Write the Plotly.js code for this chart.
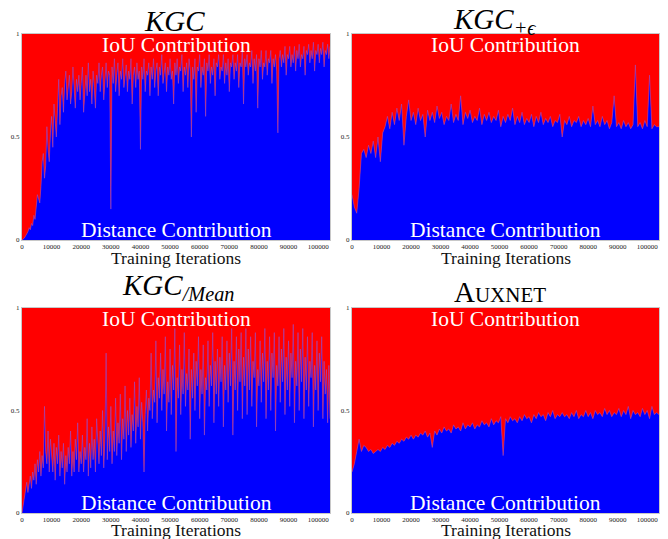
<!DOCTYPE html>
<html><head><meta charset="utf-8">
<script src="https://cdn.plot.ly/plotly-3.0.1.min.js"></script>
<style>html,body{margin:0;padding:0;background:#fff}#c{width:668px;height:539px}</style>
</head><body><div id="c"></div>
<script>
// Iteration sampling steps (training iterations between samples), per panel
const panelSteps = [400, 800, 400, 800];

// Distance-contribution share (blue); IoU share is the remainder
const kgcDistance = [
0,0.005,0.01,0.02,0.03,0.04,0.06,0.05,0.08,0.07,
0.12,0.1,0.16,0.22,0.2,0.18,0.26,0.38,0.42,0.3,
0.36,0.55,0.44,0.38,0.52,0.6,0.45,0.66,0.58,0.5,
0.64,0.78,0.56,0.7,0.74,0.62,0.76,0.82,0.68,0.74,
0.8,0.66,0.72,0.84,0.7,0.64,0.78,0.72,0.8,0.68,
0.76,0.84,0.62,0.74,0.8,0.7,0.86,0.72,0.78,0.66,
0.82,0.74,0.64,0.8,0.76,0.86,0.72,0.8,0.84,0.68,
0.78,0.86,0.74,0.82,0.8,0.15,0.84,0.76,0.88,0.72,
0.8,0.86,0.7,0.82,0.78,0.88,0.74,0.8,0.85,0.72,
0.82,0.78,0.88,0.66,0.8,0.84,0.74,0.86,0.78,0.82,
0.44,0.84,0.78,0.88,0.72,0.82,0.8,0.86,0.7,0.84,
0.78,0.88,0.74,0.82,0.86,0.7,0.84,0.8,0.9,0.76,
0.82,0.86,0.72,0.84,0.8,0.88,0.78,0.82,0.66,0.86,
0.8,0.88,0.76,0.84,0.82,0.9,0.72,0.84,0.8,0.86,
0.74,0.88,0.82,0.5,0.84,0.78,0.88,0.62,0.84,0.82,
0.9,0.74,0.84,0.8,0.88,0.6,0.86,0.82,0.9,0.76,
0.84,0.8,0.88,0.7,0.86,0.84,0.9,0.78,0.84,0.82,
0.9,0.76,0.86,0.8,0.88,0.72,0.86,0.84,0.9,0.78,
0.86,0.82,0.9,0.74,0.86,0.84,0.92,0.66,0.88,0.84,
0.9,0.8,0.86,0.84,0.92,0.76,0.88,0.82,0.9,0.64,
0.88,0.84,0.92,0.78,0.86,0.84,0.92,0.8,0.88,0.86,
0.92,0.76,0.88,0.84,0.9,0.82,0.52,0.88,0.92,0.84,
0.9,0.86,0.94,0.8,0.9,0.88,0.94,0.84,0.9,0.86,
0.94,0.82,0.92,0.88,0.95,0.84,0.9,0.88,0.94,0.8,
0.92,0.9,0.95,0.86,0.92,0.88,0.96,0.82,0.92,0.9,
0.95,0.86,0.93,0.9,0.96,0.84,0.92,0.9,0.95,0.88,
0.94];

const kgcEpsDistance = [
0.22,0.16,0.13,0.25,0.42,0.44,0.4,0.46,0.42,0.48,
0.4,0.5,0.38,0.52,0.55,0.6,0.54,0.62,0.56,0.64,
0.58,0.66,0.46,0.6,0.68,0.58,0.62,0.56,0.64,0.58,
0.61,0.5,0.63,0.58,0.62,0.57,0.65,0.59,0.62,0.56,
0.6,0.58,0.66,0.57,0.61,0.58,0.7,0.56,0.62,0.59,
0.63,0.57,0.6,0.58,0.64,0.56,0.61,0.58,0.62,0.57,
0.6,0.58,0.63,0.55,0.6,0.57,0.61,0.58,0.64,0.56,
0.6,0.57,0.62,0.56,0.59,0.57,0.61,0.55,0.6,0.57,
0.62,0.56,0.59,0.57,0.6,0.55,0.58,0.57,0.61,0.5,
0.58,0.56,0.6,0.55,0.58,0.57,0.6,0.55,0.58,0.56,
0.59,0.55,0.65,0.56,0.58,0.55,0.6,0.56,0.58,0.54,
0.57,0.7,0.55,0.57,0.54,0.58,0.55,0.57,0.54,0.56,
0.85,0.55,0.57,0.54,0.58,0.55,0.8,0.54,0.56,0.55,0.55];

const kgcMeanDistance = [
0,0.04,0.08,0.12,0.15,0.1,0.14,0.18,0.12,0.2,
0.16,0.24,0.14,0.26,0.2,0.3,0.18,0.28,0.22,0.52,
0.3,0.24,0.4,0.2,0.36,0.28,0.2,0.34,0.16,0.32,
0.24,0.38,0.18,0.3,0.22,0.34,0.14,0.28,0.2,0.32,
0.24,0.4,0.18,0.3,0.2,0.36,0.26,0.44,0.2,0.3,
0.24,0.38,0.2,0.32,0.26,0.46,0.18,0.34,0.22,0.42,
0.26,0.36,0.2,0.46,0.3,0.24,0.4,0.28,0.5,0.22,
0.36,0.78,0.26,0.42,0.3,0.52,0.24,0.4,0.3,0.56,
0.28,0.44,0.34,0.58,0.26,0.46,0.36,0.62,0.3,0.5,
0.38,0.56,0.32,0.48,0.4,0.64,0.34,0.52,0.42,0.66,
0.36,0.54,0.44,0.2,0.48,0.6,0.4,0.56,0.5,0.78,
0.46,0.6,0.54,0.84,0.44,0.66,0.56,0.78,0.5,0.7,
0.58,0.86,0.4,0.64,0.54,0.8,0.48,0.72,0.6,0.9,
0.3,0.66,0.56,0.82,0.48,0.7,0.58,0.88,0.52,0.68,
0.6,0.8,0.36,0.7,0.56,0.78,0.5,0.74,0.62,0.86,
0.46,0.7,0.58,0.82,0.38,0.66,0.6,0.84,0.52,0.72,
0.62,0.88,0.44,0.74,0.58,0.8,0.52,0.76,0.64,0.86,
0.42,0.72,0.6,0.84,0.54,0.78,0.62,0.9,0.38,0.74,
0.6,0.86,0.5,0.8,0.64,0.88,0.46,0.76,0.62,0.9,
0.48,0.8,0.6,0.86,0.52,0.74,0.66,0.88,0.42,0.7,
0.62,0.84,0.54,0.78,0.64,0.9,0.46,0.74,0.6,0.86,
0.5,0.78,0.66,0.88,0.4,0.72,0.62,0.86,0.54,0.8,
0.64,0.9,0.48,0.76,0.6,0.84,0.52,0.78,0.66,0.92,
0.44,0.74,0.62,0.88,0.5,0.8,0.64,0.9,0.46,0.76,
0.6,0.86,0.52,0.74,0.66,0.88,0.42,0.72,0.6,0.84,
0.5,0.78,0.64,0.86,0.46,0.74,0.58,0.7,0.44,0.72,
0.46];

const auxnetDistance = [
0.2,0.24,0.3,0.36,0.3,0.33,0.32,0.3,0.31,0.29,
0.3,0.31,0.3,0.32,0.31,0.33,0.32,0.34,0.33,0.35,
0.34,0.36,0.35,0.37,0.36,0.38,0.36,0.38,0.37,0.39,
0.38,0.4,0.37,0.39,0.32,0.4,0.38,0.41,0.39,0.42,
0.4,0.41,0.39,0.43,0.41,0.42,0.4,0.44,0.41,0.43,
0.42,0.44,0.41,0.43,0.42,0.45,0.43,0.44,0.42,0.46,
0.43,0.45,0.44,0.47,0.28,0.46,0.44,0.47,0.45,0.46,
0.44,0.47,0.45,0.48,0.46,0.47,0.44,0.48,0.46,0.49,
0.47,0.48,0.45,0.49,0.47,0.5,0.46,0.48,0.47,0.49,
0.47,0.48,0.46,0.49,0.47,0.5,0.46,0.48,0.47,0.5,
0.47,0.49,0.46,0.5,0.48,0.49,0.47,0.51,0.48,0.5,
0.47,0.49,0.48,0.51,0.47,0.5,0.48,0.52,0.46,0.5,
0.48,0.49,0.47,0.51,0.48,0.5,0.46,0.52,0.48,0.49,0.48];

const panelTitles = [
  "<i>KGC</i>",
  "<i>KGC<sub>+ϵ</sub></i>",
  "<i>KGC<sub>/Mean</sub></i>",
  "A<span style=\"font-size:21px\">UXNET</span>"
];
const topLabel = "IoU Contribution";
const bottomLabel = "Distance Contribution";
const xAxisLabel = "Training Iterations";
const yTickVals = [0, 0.5, 1];
const yTickText = ["0", "0.5", "1"];

const series = [kgcDistance, kgcEpsDistance, kgcMeanDistance, auxnetDistance];

const BLUE = "#0000ff", RED = "#ff0000";
const SERIF = "Liberation Serif, DejaVu Serif, serif";
const H = 539;

const xDomains = [[22/668, 330/668], [352/668, 659/668], [22/668, 330/668], [352/668, 659/668]];
const yDomains = [[1-240/H, 1-34/H], [1-240/H, 1-34/H], [1-513/H, 1-308/H], [1-513/H, 1-308/H]];
const titleY = [21, 20.5, 286.5, 291.5];        // px from top
const titleShift = [-2, -11, 2, -6];            // px
const xTitleY = [258, 258, 529.5, 529.5];       // px from top

const traces = [];
const layout = {
  width: 668, height: H,
  margin: {l: 0, r: 0, t: 0, b: 0},
  paper_bgcolor: "#fff",
  plot_bgcolor: RED,
  showlegend: false,
  font: {family: SERIF, color: "#000"},
  annotations: []
};

series.forEach((d, k) => {
  const n = k + 1;
  const xa = n === 1 ? "x" : "x" + n;
  const ya = n === 1 ? "y" : "y" + n;
  const iters = d.map((_, i) => i * panelSteps[k]);
  const iou = d.map(v => 1 - v);
  traces.push({
    type: "scatter", mode: "lines", x: iters, y: d, xaxis: xa, yaxis: ya,
    stackgroup: "s" + n, fillcolor: BLUE,
    line: {width: 0.6, color: "#a04cc0"}, hoverinfo: "skip"
  });
  traces.push({
    type: "scatter", mode: "lines", x: iters, y: iou, xaxis: xa, yaxis: ya,
    stackgroup: "s" + n, fillcolor: RED,
    line: {width: 0}, hoverinfo: "skip"
  });
  const xkey = n === 1 ? "xaxis" : "xaxis" + n;
  const ykey = n === 1 ? "yaxis" : "yaxis" + n;
  layout[xkey] = {
    domain: xDomains[k], anchor: ya, range: [0, 104000],
    tick0: 0, dtick: 10000, tickformat: "d",
    ticks: "", tickfont: {family: SERIF, size: 7, color: "#222"},
    showgrid: false, zeroline: false,
    showline: true, linecolor: "#c8c8c8", linewidth: 1, mirror: true
  };
  layout[ykey] = {
    domain: yDomains[k], anchor: xa, range: [0, 1],
    tickvals: yTickVals, ticktext: yTickText,
    ticks: "", tickfont: {family: SERIF, size: 7, color: "#222"},
    showgrid: false, zeroline: false,
    showline: true, linecolor: "#c8c8c8", linewidth: 1, mirror: true
  };
  const cx = (xDomains[k][0] + xDomains[k][1]) / 2;
  layout.annotations.push({
    xref: "paper", yref: "paper", x: cx, y: 1 - titleY[k]/H, xshift: titleShift[k],
    yanchor: "middle", xanchor: "center", showarrow: false,
    text: panelTitles[k], font: {family: SERIF, size: 29, color: "#000"}
  });
  layout.annotations.push({
    xref: "paper", yref: "paper", x: cx, y: yDomains[k][1] - 11/H,
    yanchor: "middle", xanchor: "center", showarrow: false,
    text: topLabel, font: {family: SERIF, size: 21.5, color: "#fff"}
  });
  layout.annotations.push({
    xref: "paper", yref: "paper", x: cx, y: yDomains[k][0] + 10/H,
    yanchor: "middle", xanchor: "center", showarrow: false,
    text: bottomLabel, font: {family: SERIF, size: 21.5, color: "#fff"}
  });
  layout.annotations.push({
    xref: "paper", yref: "paper", x: cx, y: 1 - xTitleY[k]/H,
    yanchor: "middle", xanchor: "center", showarrow: false,
    text: xAxisLabel, font: {family: SERIF, size: 17.5, color: "#111"}
  });
});

Plotly.newPlot("c", traces, layout, {staticPlot: true, displayModeBar: false});
</script>
</body></html>
